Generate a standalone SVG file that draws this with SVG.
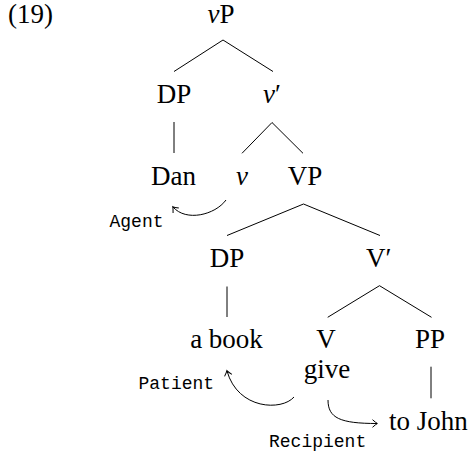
<svg xmlns="http://www.w3.org/2000/svg" width="475" height="456" viewBox="0 0 475 456">
<style>
.t{font-family:"Liberation Serif","Times New Roman",serif;font-size:27px;fill:#000;text-anchor:middle}
.i{font-style:italic}
.m{font-family:"Liberation Mono","Courier New",monospace;font-size:18px;fill:#000}
.e{stroke:#000;stroke-width:1;fill:none}
.a{stroke:#000;stroke-width:1;fill:none;marker-end:url(#to)}
</style>
<defs>
<marker id="to" markerUnits="userSpaceOnUse" markerWidth="12" markerHeight="12" refX="6" refY="6" orient="auto" viewBox="0 0 12 12">
<path d="M1.5,2.2 Q4.8,5.2 6.4,6 Q4.8,6.8 1.5,9.8" fill="none" stroke="#000" stroke-width="1"/>
</marker>
</defs>
<rect width="475" height="456" fill="#fff"/>
<text x="8" y="23" font-family="Liberation Serif, serif" font-size="27" fill="#000">(19)</text>
<g id="connectors">
<line class="e" x1="223" y1="40" x2="174" y2="71.5"/>
<line class="e" x1="223" y1="40" x2="273" y2="71.5"/>
<line class="e" x1="174" y1="122" x2="174" y2="153"/>
<line class="e" x1="272" y1="122.5" x2="242" y2="153.3"/>
<line class="e" x1="272" y1="122.5" x2="303" y2="153.3"/>
<line class="e" x1="303.5" y1="204" x2="227" y2="235.5"/>
<line class="e" x1="303.5" y1="204" x2="380" y2="235.5"/>
<line class="e" x1="227" y1="286.5" x2="227" y2="317"/>
<line class="e" x1="379.5" y1="285.7" x2="327.7" y2="317.3"/>
<line class="e" x1="379.5" y1="285.7" x2="431.5" y2="317.3"/>
<line class="e" x1="431" y1="366.7" x2="431" y2="398.3"/>
<path class="a" d="M226,200 C215,215 186,222 173,207"/>
<path class="a" d="M294,397 C282,411 238,410 227,371"/>
<path class="a" d="M328,400 C328,418 340,423.5 377,423.5"/>
</g>
<g id="vP"><text class="t" x="221" y="23"><tspan class="i">v</tspan>P</text></g>
<g id="DP1"><text class="t" x="174" y="103">DP</text></g>
<g id="vbar"><text class="t" x="263" y="103" style="text-anchor:start"><tspan class="i">v</tspan>′</text></g>
<g id="Dan"><text class="t" x="173.5" y="185">Dan</text></g>
<g id="v"><text class="t i" x="242" y="185">v</text></g>
<g id="VP"><text class="t" x="305" y="185">VP</text></g>
<g id="DP2"><text class="t" x="227" y="267">DP</text></g>
<g id="Vbar"><text class="t" x="366" y="267" style="text-anchor:start">V′</text></g>
<g id="abook"><text class="t" x="226.5" y="348">a book</text></g>
<g id="V"><text class="t" x="326" y="348">V</text><text class="t" x="327" y="378">give</text></g>
<g id="PP"><text class="t" x="430" y="348">PP</text></g>
<g id="toJohn"><text class="t" x="428.5" y="430">to John</text></g>
<g id="labels">
<text class="m" x="109.5" y="226.5">Agent</text>
<text class="m" x="138.5" y="389">Patient</text>
<text class="m" x="269" y="446.5">Recipient</text>
</g>
</svg>
